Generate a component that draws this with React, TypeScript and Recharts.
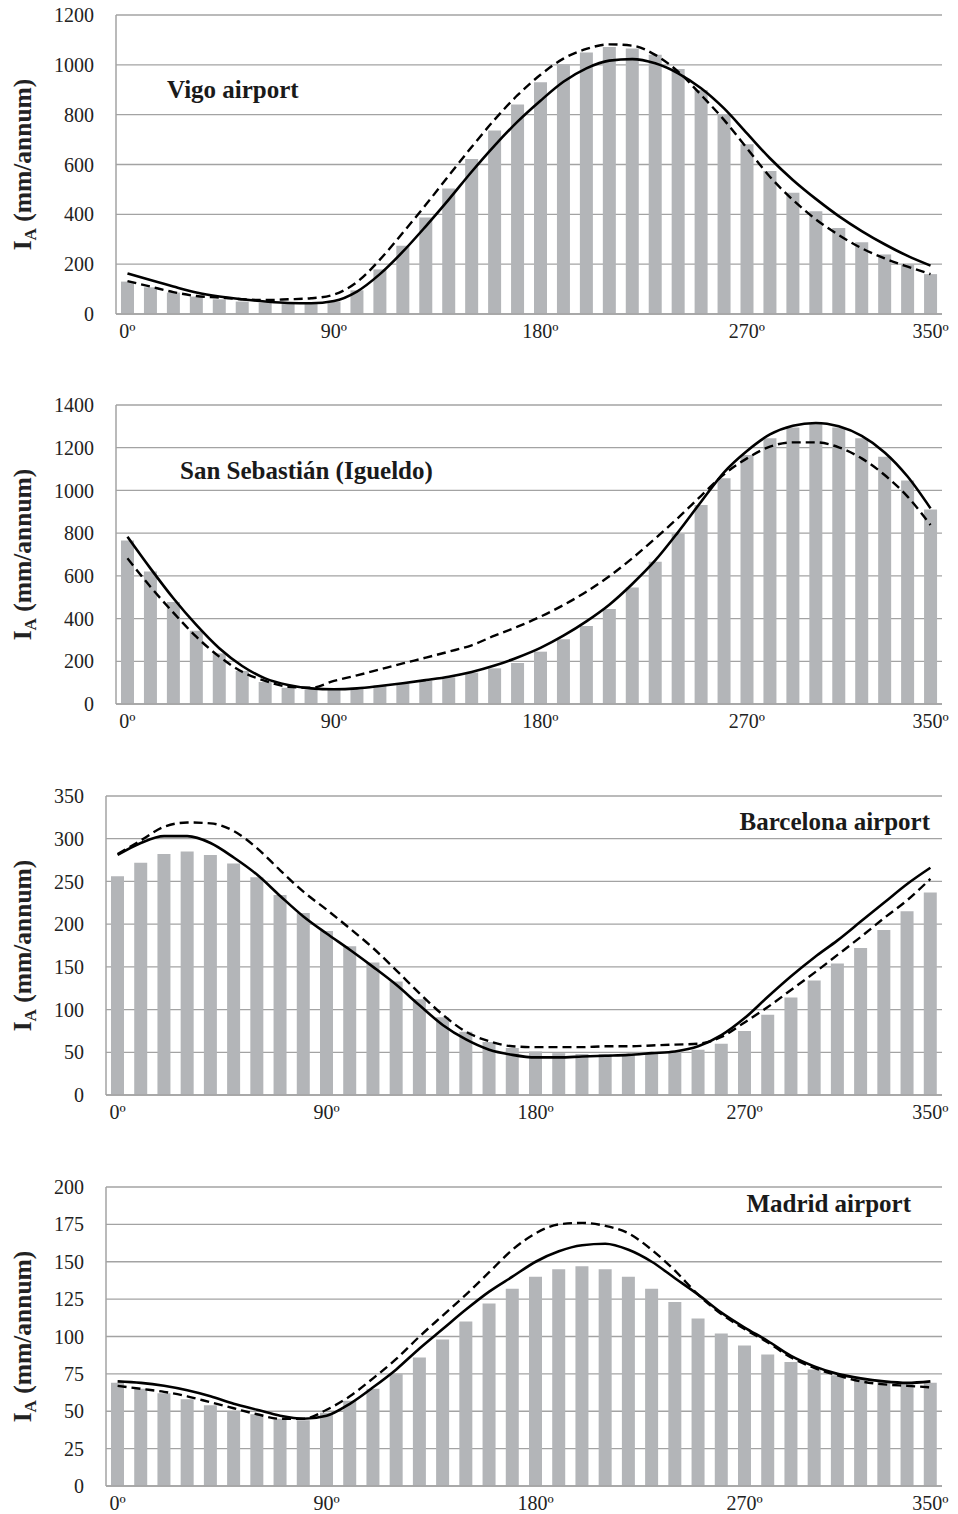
import React from "react";
import { ComposedChart, Bar, Line, XAxis, YAxis, CartesianGrid } from "recharts";

// ---------- categories ----------
const angles = [
  "0º", "10º", "20º", "30º", "40º", "50º", "60º", "70º", "80º", "90º",
  "100º", "110º", "120º", "130º", "140º", "150º", "160º", "170º", "180º", "190º",
  "200º", "210º", "220º", "230º", "240º", "250º", "260º", "270º", "280º", "290º",
  "300º", "310º", "320º", "330º", "340º", "350º",
];
const xTicks = ["0º", "90º", "180º", "270º", "350º"];

// ---------- Vigo airport ----------
const vigoTicks = [0, 200, 400, 600, 800, 1000, 1200];
const vigoBars = [130, 107, 86, 70, 59, 50, 45, 43, 43, 50, 95, 179, 274, 387, 504, 622, 736, 841, 930, 1002, 1049, 1072, 1066, 1040, 983, 899, 803, 681, 574, 487, 412, 345, 288, 239, 199, 160];
const vigoSolid = [163, 136, 110, 86, 70, 59, 50, 44, 43, 52, 90, 160, 250, 352, 459, 571, 676, 772, 856, 932, 986, 1017, 1023, 1006, 966, 906, 825, 725, 625, 538, 462, 393, 333, 280, 233, 194];
const vigoDashed = [132, 110, 88, 72, 66, 59, 56, 59, 63, 78, 128, 218, 326, 438, 555, 670, 780, 878, 960, 1025, 1064, 1082, 1077, 1040, 973, 879, 779, 665, 551, 458, 380, 317, 264, 223, 190, 160];

// ---------- San Sebastián (Igueldo) ----------
const ssTicks = [0, 200, 400, 600, 800, 1000, 1200, 1400];
const ssBars = [765, 620, 478, 343, 237, 155, 103, 76, 69, 69, 76, 86, 97, 109, 125, 147, 167, 192, 245, 303, 365, 445, 546, 666, 796, 932, 1057, 1166, 1244, 1295, 1314, 1295, 1244, 1158, 1046, 911];
const ssSolid = [783, 635, 495, 370, 261, 178, 120, 89, 73, 69, 73, 84, 97, 112, 128, 150, 180, 218, 263, 320, 387, 465, 562, 672, 805, 947, 1085, 1185, 1262, 1303, 1316, 1300, 1255, 1178, 1065, 916];
const ssDashed = [682, 549, 428, 315, 222, 151, 108, 81, 76, 108, 134, 162, 190, 217, 245, 275, 320, 362, 409, 463, 526, 598, 682, 775, 872, 975, 1075, 1150, 1205, 1225, 1225, 1202, 1150, 1072, 971, 838];

// ---------- Barcelona airport ----------
const bcnTicks = [0, 50, 100, 150, 200, 250, 300, 350];
const bcnBars = [256, 272, 282, 285, 281, 271, 255, 234, 213, 192, 174, 155, 133, 112, 91, 74, 62, 55, 51, 49, 48, 48, 48, 50, 51, 53, 60, 75, 94, 114, 134, 154, 172, 193, 215, 237];
const bcnSolid = [281, 295, 303, 303, 295, 278, 258, 233, 209, 189, 170, 150, 129, 105, 82, 65, 53, 47, 44, 44, 45, 46, 47, 49, 51, 57, 70, 90, 115, 139, 161, 181, 203, 225, 247, 266];
const bcnDashed = [282, 298, 314, 319, 318, 309, 289, 263, 238, 217, 195, 172, 146, 119, 94, 74, 63, 57, 56, 56, 56, 57, 57, 58, 59, 60, 68, 85, 103, 123, 143, 164, 185, 207, 228, 253];

// ---------- Madrid airport ----------
const madTicks = [0, 25, 50, 75, 100, 125, 150, 175, 200];
const madBars = [69, 65, 62, 58, 54, 50, 48, 45, 44, 49, 57, 65, 75, 86, 98, 110, 122, 132, 140, 145, 147, 145, 140, 132, 123, 112, 102, 94, 88, 83, 78, 74, 72, 70, 69, 69];
const madSolid = [70, 69, 67, 64, 60, 55, 51, 47, 45, 47, 55, 66, 78, 92, 105, 118, 130, 140, 150, 157, 161, 162, 158, 150, 139, 128, 116, 106, 97, 87, 80, 75, 72, 70, 69, 70];
const madDashed = [67, 65, 63, 60, 56, 52, 48, 45, 45, 51, 60, 72, 85, 100, 114, 128, 143, 158, 169, 175, 176, 174, 169, 158, 144, 128, 115, 105, 96, 86, 79, 74, 70, 68, 67, 66];

// ---------- styles ----------
const FONT = "'Liberation Serif', 'Times New Roman', serif";
const GRID = "#a3a3a3";
const BAR = "#b3b5b8";
const TEXT = "#222";

type PanelProps = {
  top: number;
  axisWidth: number;
  yMax: number;
  yTicks: number[];
  bars: number[];
  solid: number[];
  dashed: number[];
};

function Panel({ top, axisWidth, yMax, yTicks, bars, solid, dashed }: PanelProps) {
  const data = angles.map((a, i) => ({ angle: a, bar: bars[i], solid: solid[i], dashed: dashed[i] }));
  return (
    <div style={{ position: "absolute", left: 0, top, width: 958, height: 360 }}>
      <ComposedChart
        width={958}
        height={360}
        data={data}
        margin={{ top: 15, right: 16, bottom: 16, left: 0 }}
      >
        <CartesianGrid vertical={false} stroke={GRID} strokeWidth={1.3} />
        <XAxis
          dataKey="angle"
          interval={0}
          tickFormatter={(v: string) => (xTicks.includes(v) ? v : "")}
          tickLine={false}
          tickSize={0}
          tickMargin={10}
          height={30}
          axisLine={{ stroke: GRID, strokeWidth: 1.5 }}
          tick={{ fontFamily: FONT, fontSize: 20, fill: TEXT }}
        />
        <YAxis
          width={axisWidth}
          domain={[0, yMax]}
          ticks={yTicks}
          interval={0}
          tickLine={false}
          tickSize={0}
          tickMargin={22}
          axisLine={{ stroke: GRID, strokeWidth: 1.5 }}
          tick={{ fontFamily: FONT, fontSize: 20, fill: TEXT }}
        />
        <Bar dataKey="bar" fill={BAR} barSize={13} isAnimationActive={false} />
        <Line type="monotone" dataKey="dashed" stroke="#000" strokeWidth={2.4} strokeDasharray="9 5" dot={false} isAnimationActive={false} />
        <Line type="monotone" dataKey="solid" stroke="#000" strokeWidth={2.6} dot={false} isAnimationActive={false} />
      </ComposedChart>
    </div>
  );
}

function YLabel({ cy }: { cy: number }) {
  return (
    <text
      transform={`translate(31, ${cy}) rotate(-90)`}
      textAnchor="middle"
      fontFamily={FONT}
      fontWeight="bold"
      fontSize={25.5}
      fill={TEXT}
    >
      <tspan>I</tspan>
      <tspan fontSize={17} dy={5}>A</tspan>
      <tspan dy={-5}> (mm/annum)</tspan>
    </text>
  );
}

export default function App() {
  return (
    <div style={{ position: "absolute", left: 0, top: 0, width: 958, height: 1514, background: "#fff" }}>
      <Panel top={0} axisWidth={116} yMax={1200} yTicks={vigoTicks} bars={vigoBars} solid={vigoSolid} dashed={vigoDashed} />
      <Panel top={390} axisWidth={116} yMax={1400} yTicks={ssTicks} bars={ssBars} solid={ssSolid} dashed={ssDashed} />
      <Panel top={781} axisWidth={106} yMax={350} yTicks={bcnTicks} bars={bcnBars} solid={bcnSolid} dashed={bcnDashed} />
      <Panel top={1172} axisWidth={106} yMax={200} yTicks={madTicks} bars={madBars} solid={madSolid} dashed={madDashed} />
      <svg width={958} height={1514} style={{ position: "absolute", left: 0, top: 0, pointerEvents: "none" }}>
        <g fontFamily={FONT} fontWeight="bold" fontSize={25} fill="#1a1a1a">
          <text x={167} y={98}>Vigo airport</text>
          <text x={180} y={479}>San Sebastián (Igueldo)</text>
          <text x={930} y={830} textAnchor="end">Barcelona airport</text>
          <text x={911} y={1212} textAnchor="end">Madrid airport</text>
        </g>
        <YLabel cy={164.5} />
        <YLabel cy={554.5} />
        <YLabel cy={945.5} />
        <YLabel cy={1336.5} />
      </svg>
    </div>
  );
}
